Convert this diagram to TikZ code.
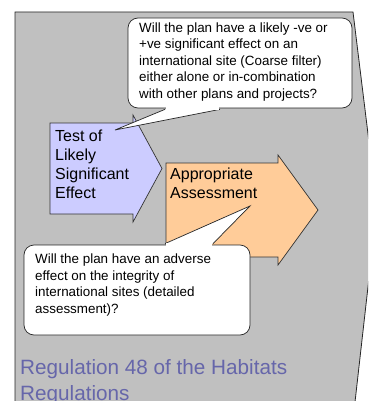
\documentclass[tikz,border=0pt]{standalone}
\usepackage{fontspec}
\setmainfont{Liberation Sans}
\usetikzlibrary{positioning}
\definecolor{panelgrey}{RGB}{192,192,192}
\definecolor{lsefill}{RGB}{204,204,255}
\definecolor{aafill}{RGB}{255,204,153}
\definecolor{regtext}{RGB}{102,102,170}
\tikzstyle{panel} = [draw=black!85, line width=0.8pt, fill=panelgrey]
\tikzstyle{stage} = [draw=black!80, line width=0.7pt]
\tikzstyle{stagetext} = [inner sep=0pt, anchor=north west, align=left, font=\fontsize{16}{19.3}\selectfont]
\tikzstyle{bubble} = [draw=black!85, line width=0.7pt, fill=white, rounded corners=10pt, inner sep=0pt]
\tikzstyle{bubbletext} = [inner sep=0pt, anchor=north west, align=left, font=\fontsize{13.4}{16.5}\selectfont]
\tikzstyle{pointer} = [draw=black!85, line width=0.7pt, fill=white, line join=miter]
% one block arrow: name, left, right of body, top, bottom, head overhang, tip x
\newcommand{\stagearrow}[7]{
  \fill[#1] (#2,#4) -- (#3,#4) -- (#3,#4-#6) -- (#7,#4/2+#5/2) -- (#3,#5+#6)
    -- (#3,#5) -- (#2,#5) -- cycle;
  \draw[stage] (#2,#4) -- (#3,#4) -- (#3,#4-#6) -- (#7,#4/2+#5/2) -- (#3,#5+#6)
    -- (#3,#5) -- (#2,#5) -- cycle;
}

\begin{document}
\begin{tikzpicture}[x=1pt, y=-1pt]
\useasboundingbox (0,0) rectangle (368,401);
\clip (0,0) rectangle (368,401);

% grey panel
\draw[panel] (15,402) -- (15,12) -- (353,12) -- (377,207) -- (355,402);

% the two stages
\stagearrow{lsefill}{50}{133}{123}{214}{8}{162}
\node[stagetext] (lse) at (55,129.3) {Test of\\Likely\\Significant\\Effect};
\stagearrow{aafill}{166}{278}{163}{257}{8}{318}
\node[stagetext] (aa) at (170,167.3) {Appropriate\\Assessment};

% upper question
\node[bubble, minimum width=224pt, minimum height=90pt] (upbox) at (240,63) {};
\coordinate (uptip) at (115,130);
\draw[pointer] ([xshift=-75pt,yshift=-1pt]upbox.south) -- (uptip)
  -- ([xshift=-20pt,yshift=-1pt]upbox.south);
\fill[white] ([xshift=-74pt,yshift=-1.5pt]upbox.south) rectangle ([xshift=-21pt,yshift=2pt]upbox.south);
\node[bubbletext] (upq) at (139,22.4) {Will the plan have a likely -ve or\\+ve significant effect on an\\international site (Coarse filter)\\either alone or in-combination\\with other plans and projects?};

% lower question
\node[bubble, minimum width=226pt, minimum height=90pt] (lowbox) at (137,290) {};
\coordinate (lowtip) at (250,206);
\draw[pointer] ([xshift=28pt,yshift=1pt]lowbox.north) -- (lowtip)
  -- ([xshift=76pt,yshift=1pt]lowbox.north);
\fill[white] ([xshift=29pt,yshift=1.5pt]lowbox.north) rectangle ([xshift=75pt,yshift=-2pt]lowbox.north);
\node[bubbletext] (lowq) at (35,254) {Will the plan have an adverse\\effect on the integrity of\\international sites (detailed\\assessment)?};

% title
\node[inner sep=0pt, anchor=north west, align=left, text=regtext,
  font=\fontsize{20.7}{26}\selectfont] (reg) at (20,359.6) {Regulation 48 of the Habitats\\Regulations};
\end{tikzpicture}
\end{document}
